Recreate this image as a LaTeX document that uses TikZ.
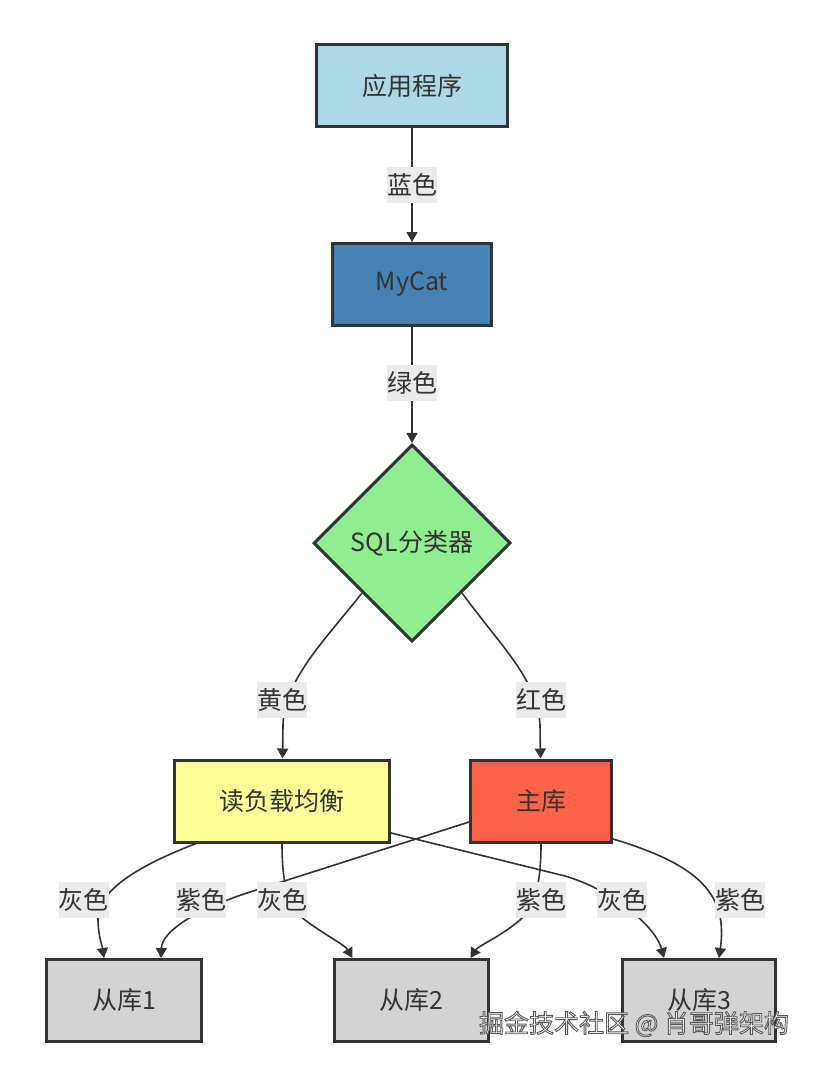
\documentclass[tikz,border=0pt]{standalone}
\usepackage{fontspec}
\setmainfont{Noto Sans CJK SC}
\usepackage{xcolor}
\usetikzlibrary{arrows.meta,calc,shapes.geometric}
\definecolor{ink}{HTML}{333333}
\definecolor{lblbg}{HTML}{EBEBEB}
\definecolor{appblue}{HTML}{ADD8E6}
\definecolor{catblue}{HTML}{4682B4}
\definecolor{sqlgreen}{HTML}{90EE90}
\definecolor{readyellow}{HTML}{FFFF99}
\definecolor{mainred}{HTML}{FF6347}
\definecolor{slavegray}{HTML}{D3D3D3}
\newcommand{\outlined}[1]{\special{pdf:literal direct 2 Tr 0.35 G 0.9 w}#1\special{pdf:literal direct 0 Tr}}
\tikzset{box/.style={draw=ink,line width=3pt,minimum height=82pt,text=ink,font=\fontsize{25}{29}\selectfont},
	lbl/.style={fill=lblbg,text=ink,inner xsep=0pt,inner ysep=0pt,minimum height=36pt,font=\fontsize{25}{29}\selectfont},
	flow/.style={draw=ink,line width=1.6pt,arrows={-Triangle[length=10pt,width=11pt]}},
	wm/.style={font=\fontsize{25}{29}\selectfont,inner sep=0pt}}

\begin{document}
\begin{tikzpicture}[x=1pt,y=-1pt]
			\useasboundingbox[fill=white] (0,0) rectangle (817,1065);
			
			\node[box, fill=appblue, minimum width=191pt] (app) at (412,85.5) {应用程序};
			\node[box, fill=catblue, minimum width=159pt] (mycat) at (412,284.5) {MyCat};
			\node[box, diamond, aspect=1, fill=sqlgreen, minimum width=197pt, minimum height=197pt, inner sep=0pt] (cls) at (412,543) {SQL分类器};
			\node[box, fill=readyellow, minimum width=215pt] (read) at (282,801) {读负载均衡};
			\node[box, fill=mainred, minimum width=141pt] (main) at (541,801) {主库};
			\node[box, fill=slavegray, minimum width=155pt] (s1) at (124,1000.5) {从库1};
			\node[box, fill=slavegray, minimum width=154pt] (s2) at (411.5,1000.5) {从库2};
			\node[box, fill=slavegray, minimum width=153pt] (s3) at (699,1000.5) {从库3};
			
			\draw[flow] (app) -- (mycat);
			\draw[flow] (mycat) -- (cls);
			\draw[flow] (cls.south west) .. controls (325,640) and (284,680) .. (283,725) -- (read);
			\draw[flow] (cls.south east) .. controls (500,645) and (538,680) .. (540,725) -- (main);
			
			% read -> slaves
			\draw[flow] ([xshift=23pt]read.south west) .. controls (140,865) and (98,890) .. (98,918) .. controls (98,935) and (102,945) .. ([xshift=-20pt]s1.north);
			\draw[flow] (read.south) .. controls (282,890) and (290,908) .. (305,920) .. controls (325,935) and (345,945) .. ([xshift=-59pt]s2.north);
			\draw[flow] ([yshift=-32pt]read.east) -- (565,876) .. controls (610,889) and (655,925) .. ([xshift=-35pt]s3.north);
			% main -> slaves
			\draw[flow] ([yshift=-21pt]main.west) -- (250,892) .. controls (200,908) and (162,930) .. ([xshift=37pt]s1.north);
			\draw[flow] (main.south) .. controls (541,890) and (533,908) .. (520,920) .. controls (500,937) and (478,946) .. ([xshift=59pt]s2.north);
			\draw[flow] ([yshift=-38pt]main.east) .. controls (700,865) and (728,895) .. ([xshift=20pt]s3.north);
			
			\node[lbl] (lblue) at (412,185) {蓝色};
			\node[lbl] (lgreen) at (412,383) {绿色};
			\node[lbl] (lyellow) at (282,700) {黄色};
			\node[lbl] (lred) at (541,700) {红色};
			\node[lbl] (lgray1) at (83.5,900) {灰色};
			\node[lbl] (lpurple1) at (201,900) {紫色};
			\node[lbl] (lgray2) at (282,900) {灰色};
			\node[lbl] (lpurple2) at (541,900) {紫色};
			\node[lbl] (lgray3) at (622,900) {灰色};
			\node[lbl] (lpurple3) at (740,900) {紫色};
			
			\node[wm, text=white] (wmark) at (634,1024) {\outlined{掘金技术社区 @ 肖哥弹架构}};
		\end{tikzpicture}
\end{document}
